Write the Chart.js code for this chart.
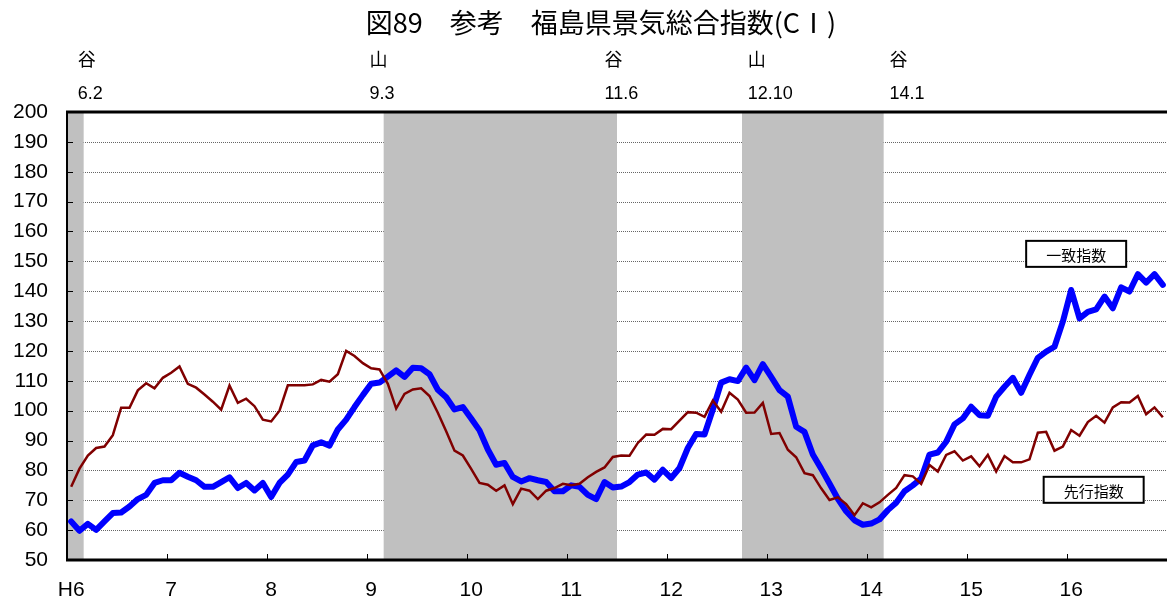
<!DOCTYPE html>
<html lang="ja">
<head>
<meta charset="UTF-8">
<title>図89 参考 福島県景気総合指数(CI)</title>
<script src="https://cdn.jsdelivr.net/npm/chart.js"></script>
<style>
  html, body { margin: 0; padding: 0; background: #fff; overflow: hidden; }
</style>
</head>
<body>
<canvas id="myChart" width="1167" height="604"></canvas>

<script>
    // 平成6年1月～平成16年12月（月次）
    var years = [6, 7, 8, 9, 10, 11, 12, 13, 14, 15, 16];
    var months = [1, 2, 3, 4, 5, 6, 7, 8, 9, 10, 11, 12];
    var categories = [];
    years.forEach(function (y) {
        months.forEach(function (m) { categories.push('H' + y + '.' + m); });
    });

    // 一致指数
    var coincident = [
        62.9, 59.8, 62.1, 60.1, 62.9, 65.7, 65.9, 67.9, 70.4, 71.8, 75.8, 76.7,
        76.7, 79.2, 77.9, 76.7, 74.5, 74.5, 76.1, 77.7, 74.1, 75.8, 73.3, 75.8,
        71.1, 75.8, 78.6, 82.8, 83.3, 88.4, 89.4, 88.3, 93.7, 97.0, 101.2, 105.2,
        109.0, 109.4, 111.4, 113.5, 111.3, 114.4, 114.2, 112.2, 107.0, 104.5, 100.4, 101.2,
        97.4, 93.4, 87.0, 81.9, 82.5, 77.8, 76.3, 77.4, 76.7, 76.1, 73.0, 73.0,
        75.0, 74.5, 71.8, 70.4, 76.1, 74.3, 74.6, 76.1, 78.6, 79.3, 76.9, 80.2,
        77.4, 80.8, 87.5, 92.2, 92.0, 100.4, 109.4, 110.5, 109.9, 114.4, 110.2, 115.6,
        111.3, 106.9, 104.7, 94.6, 92.9, 85.3, 80.6, 75.6, 70.5, 66.3, 63.3, 61.8,
        62.2, 63.6, 66.7, 69.2, 73.0, 75.0, 77.3, 85.3, 86.0, 89.6, 95.4, 97.4,
        101.3, 98.5, 98.3, 104.7, 108.0, 111.0, 106.0, 112.0, 117.7, 119.8, 121.4, 129.8,
        140.4, 130.9, 133.1, 133.9, 138.2, 134.3, 141.3, 139.9, 145.7, 142.9, 145.7, 142.1
    ];

    // 先行指数
    var leading = [
        74.5, 80.6, 85.0, 87.5, 88.0, 91.8, 101.0, 101.0, 106.8, 109.2, 107.5, 111.0,
        112.7, 114.8, 109.0, 107.7, 105.4, 103.0, 100.3, 108.4, 102.6, 104.0, 101.5, 97.0,
        96.4, 100.0, 108.5, 108.5, 108.5, 108.8, 110.3, 109.7, 112.2, 120.0, 118.3, 115.9,
        114.2, 113.8, 109.0, 100.7, 105.6, 107.1, 107.5, 104.9, 99.3, 93.1, 86.6, 85.0,
        80.5, 75.8, 75.2, 73.2, 75.0, 68.7, 73.9, 73.2, 70.4, 73.2, 74.1, 75.5,
        75.0, 75.5, 77.7, 79.5, 81.0, 84.5, 85.0, 84.9, 89.2, 92.0, 91.9, 93.9,
        93.8, 96.7, 99.5, 99.3, 97.9, 103.4, 99.6, 106.0, 103.7, 99.3, 99.4, 102.6,
        92.2, 92.5, 86.9, 84.4, 79.1, 78.4, 74.0, 70.1, 71.0, 68.7, 65.0, 69.0,
        67.6, 69.3, 71.8, 74.1, 78.4, 78.0, 75.5, 81.8, 79.6, 85.2, 86.4, 83.3,
        84.7, 81.4, 85.2, 79.6, 84.8, 82.7, 82.7, 83.7, 92.6, 92.9, 86.6, 88.0,
        93.5, 91.6, 96.2, 98.3, 96.0, 101.1, 102.8, 102.7, 104.9, 98.8, 101.1, 97.8
    ];

    // 景気の山・谷
    var turnKinds = ['谷', '山', '谷', '山', '谷'];
    var turnDates = ['6.2', '9.3', '11.6', '12.10', '14.1'];

    // 後退期（網掛け）
    var shadeFrom = ['H6.1', 'H9.3', 'H12.10'];
    var shadeTo = ['H6.2', 'H11.6', 'H14.2'];

    var seriesNames = ['一致指数', '先行指数'];

    // grid, shading, tick marks and frame
    var framePlugin = {
        id: 'frame',
        beforeDatasetsDraw: function (chart) {
            var ctx = chart.ctx, a = chart.chartArea;
            var xs = chart.scales.x, ys = chart.scales.y;
            var half = (xs.getPixelForValue(1) - xs.getPixelForValue(0)) / 2;
            ctx.save();

            ctx.strokeStyle = '#666';
            ctx.lineWidth = 1;
            ctx.setLineDash([1, 1]);
            ys.ticks.forEach(function (t) {
                if (t.value <= ys.min || t.value >= ys.max) return;
                var y = Math.round(ys.getPixelForValue(t.value)) + 0.5;
                ctx.beginPath(); ctx.moveTo(a.left, y); ctx.lineTo(a.right, y); ctx.stroke();
            });
            ctx.setLineDash([]);

            ctx.fillStyle = '#c0c0c0';
            shadeFrom.forEach(function (f, k) {
                var x1 = Math.max(xs.getPixelForValue(categories.indexOf(f)) - half, a.left + 1);
                var x2 = xs.getPixelForValue(categories.indexOf(shadeTo[k])) + half;
                ctx.fillRect(x1, a.top, x2 - x1, a.bottom - a.top);
            });

            ctx.strokeStyle = '#000';
            ctx.lineWidth = 1;
            categories.forEach(function (c, i) {
                if (i === 0 || i % 12 !== 0) return;
                var x = Math.round(xs.getPixelForValue(i) - half) + 0.5;
                ctx.beginPath(); ctx.moveTo(x, a.bottom); ctx.lineTo(x, a.bottom - 6); ctx.stroke();
            });
            ys.ticks.forEach(function (t) {
                var y = Math.round(ys.getPixelForValue(t.value)) + 0.5;
                ctx.beginPath(); ctx.moveTo(a.left, y); ctx.lineTo(a.left + 6, y); ctx.stroke();
            });

            ctx.lineWidth = 3;
            ctx.beginPath(); ctx.moveTo(a.left - 1, a.top); ctx.lineTo(a.right, a.top); ctx.stroke();
            ctx.beginPath(); ctx.moveTo(a.left - 1, a.bottom); ctx.lineTo(a.right, a.bottom); ctx.stroke();
            ctx.lineWidth = 2;
            ctx.beginPath(); ctx.moveTo(a.left, a.top); ctx.lineTo(a.left, a.bottom); ctx.stroke();
            ctx.restore();
        }
    };

    // title, 山/谷 labels and the two series boxes
    var textPlugin = {
        id: 'texts',
        afterDraw: function (chart, args, opts) {
            var ctx = chart.ctx;
            var xs = chart.scales.x, ys = chart.scales.y;
            ctx.save();
            ctx.fillStyle = '#000';
            ctx.textBaseline = 'middle';

            ctx.textAlign = 'center';
            ctx.font = '27px "Noto Sans CJK JP"';
            ctx.fillText('図89　参考　福島県景気総合指数(CⅠ)', 601, 23);

            ctx.textAlign = 'left';
            turnKinds.forEach(function (k, i) {
                var x = xs.getPixelForValue(opts.labelAt[i] - 0.5);
                ctx.font = '18px "Noto Sans CJK JP"';
                ctx.fillText(k, x, 59);
                ctx.font = '18px "Liberation Sans"';
                ctx.fillText(turnDates[i], x, 94);
            });

            ctx.textAlign = 'center';
            seriesNames.forEach(function (name, i) {
                var b = opts.boxes[i];
                var cx = xs.getPixelForValue(b[0]);
                var cy = ys.getPixelForValue(b[1]);
                ctx.fillStyle = '#fff';
                ctx.fillRect(cx - 50, cy - 13, 100, 26);
                ctx.strokeStyle = '#000';
                ctx.lineWidth = 2;
                ctx.strokeRect(cx - 50, cy - 13, 100, 26);
                ctx.fillStyle = '#000';
                ctx.font = '15px "Noto Sans CJK JP"';
                ctx.fillText(name, cx, cy + 1);
            });
            ctx.restore();
        }
    };

    var ctx = document.getElementById('myChart').getContext('2d');
    var myChart = new Chart(ctx, {
        type: 'line',
        data: {
            labels: categories,
            datasets: [{
                label: seriesNames[1],
                data: leading,
                borderColor: '#800000',
                borderWidth: 2.5,
                pointRadius: 0,
                fill: false,
                order: 0
            },
            {
                label: seriesNames[0],
                data: coincident,
                borderColor: '#0000ff',
                borderWidth: 6,
                borderJoinStyle: 'round',
                borderCapStyle: 'round',
                pointRadius: 0,
                fill: false,
                order: 1
            }]
        },
        options: {
            responsive: false,
            animation: false,
            devicePixelRatio: 1,
            layout: { padding: { top: 112, left: 0, right: 0, bottom: 0 } },
            plugins: {
                legend: { display: false },
                tooltip: { enabled: false },
                texts: {
                    labelAt: [1.3, 36.3, 64.5, 81.7, 98.7],
                    boxes: [[120.6, 152.5], [122.7, 73.5]]
                }
            },
            scales: {
                x: {
                    type: 'category',
                    offset: true,
                    grid: { display: false, drawTicks: false },
                    border: { display: false },
                    ticks: {
                        autoSkip: false,
                        maxRotation: 0,
                        padding: 18,
                        color: '#000',
                        font: { family: 'Liberation Sans', size: 21 },
                        callback: function (value, index) {
                            var p = categories[index].slice(1).split('.');
                            if (p[1] !== '1') return '';
                            return index === 0 ? 'H' + p[0] : p[0];
                        }
                    },
                    afterFit: function (scale) {
                        scale.height = 44;
                        scale.paddingLeft = 0;
                        scale.paddingRight = 0;
                    }
                },
                y: {
                    min: 50,
                    max: 200,
                    grid: { display: false, drawTicks: false },
                    border: { display: false },
                    ticks: {
                        stepSize: 10,
                        padding: 19,
                        color: '#000',
                        font: { family: 'Liberation Sans', size: 21 }
                    },
                    afterFit: function (scale) { scale.width = 67; }
                }
            }
        },
        plugins: [framePlugin, textPlugin]
    });
</script>

</body>
</html>
